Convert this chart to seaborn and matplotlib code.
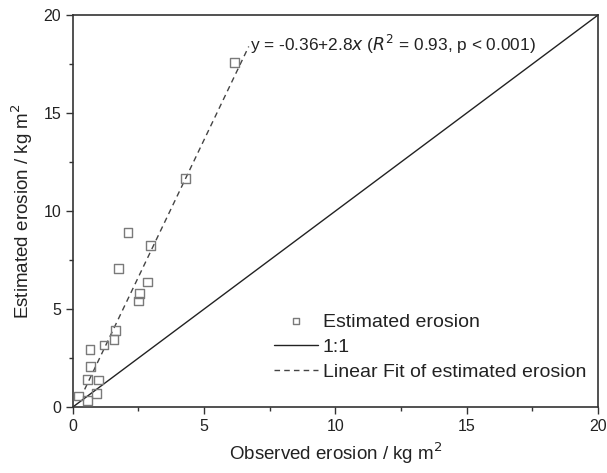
import matplotlib
matplotlib.use("Agg")
import matplotlib.pyplot as plt
import seaborn as sns
import numpy as np
import pandas as pd
from matplotlib.ticker import MultipleLocator

sns.set_style("ticks")
plt.rcParams['font.family'] = ['Liberation Sans', 'DejaVu Sans']

observed = [0.23, 0.55, 0.57, 0.65, 0.67, 0.89, 0.99, 1.19, 1.57, 1.63,
            1.73, 2.10, 2.51, 2.54, 2.83, 2.96, 4.30, 6.17]
estimated = [0.56, 0.34, 1.41, 2.94, 2.07, 0.68, 1.38, 3.16, 3.45, 3.91,
             7.07, 8.89, 5.41, 5.78, 6.38, 8.23, 11.68, 17.60]
fit_intercept = -0.36
fit_slope = 2.8
fit_x = [0.45, 6.7]
one_to_one = [0, 20]

df = pd.DataFrame({"obs": observed, "est": estimated})
fit_df = pd.DataFrame({"x": fit_x, "y": [fit_intercept + fit_slope * v for v in fit_x]})
ref_df = pd.DataFrame({"x": one_to_one, "y": one_to_one})

fig = plt.figure(figsize=(6.07, 4.73), dpi=100)
ax = fig.add_axes([0.120, 0.1395, 0.865, 0.8285])

sns.scatterplot(data=df, x="obs", y="est", ax=ax, marker="s", s=40,
                facecolor="none", edgecolor="#7a7a7a", linewidth=1.0,
                label="Estimated erosion", zorder=3)
sns.lineplot(data=ref_df, x="x", y="y", ax=ax, color="#222222", linewidth=1.0,
             label="1:1")
sns.lineplot(data=fit_df, x="x", y="y", ax=ax, color="#444444", linewidth=1.0,
             linestyle=(0, (4, 3)), label="Linear Fit of estimated erosion")

ax.set_xlim(0, 20)
ax.set_ylim(0, 20)
ax.xaxis.set_major_locator(MultipleLocator(5))
ax.yaxis.set_major_locator(MultipleLocator(5))
ax.xaxis.set_minor_locator(MultipleLocator(2.5))
ax.yaxis.set_minor_locator(MultipleLocator(2.5))
ax.tick_params(which="major", direction="out", length=5, width=1, colors="#333333",
               labelsize=11.5, labelcolor="#222222")
ax.tick_params(which="minor", direction="out", length=3, width=1, colors="#333333")
for sp in ax.spines.values():
    sp.set_color("#333333")
    sp.set_linewidth(1.2)

ax.set_xlabel("Observed erosion / kg m$^2$", fontsize=13.5, color="#222222", labelpad=5)
ax.set_ylabel("Estimated erosion / kg m$^2$", fontsize=13.5, color="#222222", labelpad=6)

ax.text(6.75, 18.5, "y = -0.36+2.8$x$ ($R^2$ = 0.93, p < 0.001)", fontsize=12.4,
        color="#222222", va="center", ha="left")

leg = ax.legend(loc="lower left", bbox_to_anchor=(0.349, 0.022), frameon=False,
                fontsize=14, handlelength=2.27, handletextpad=0.25, labelspacing=0.39,
                markerscale=0.7)
for t in leg.get_texts():
    t.set_color("#222222")

fig.savefig("out.png", dpi=100)
